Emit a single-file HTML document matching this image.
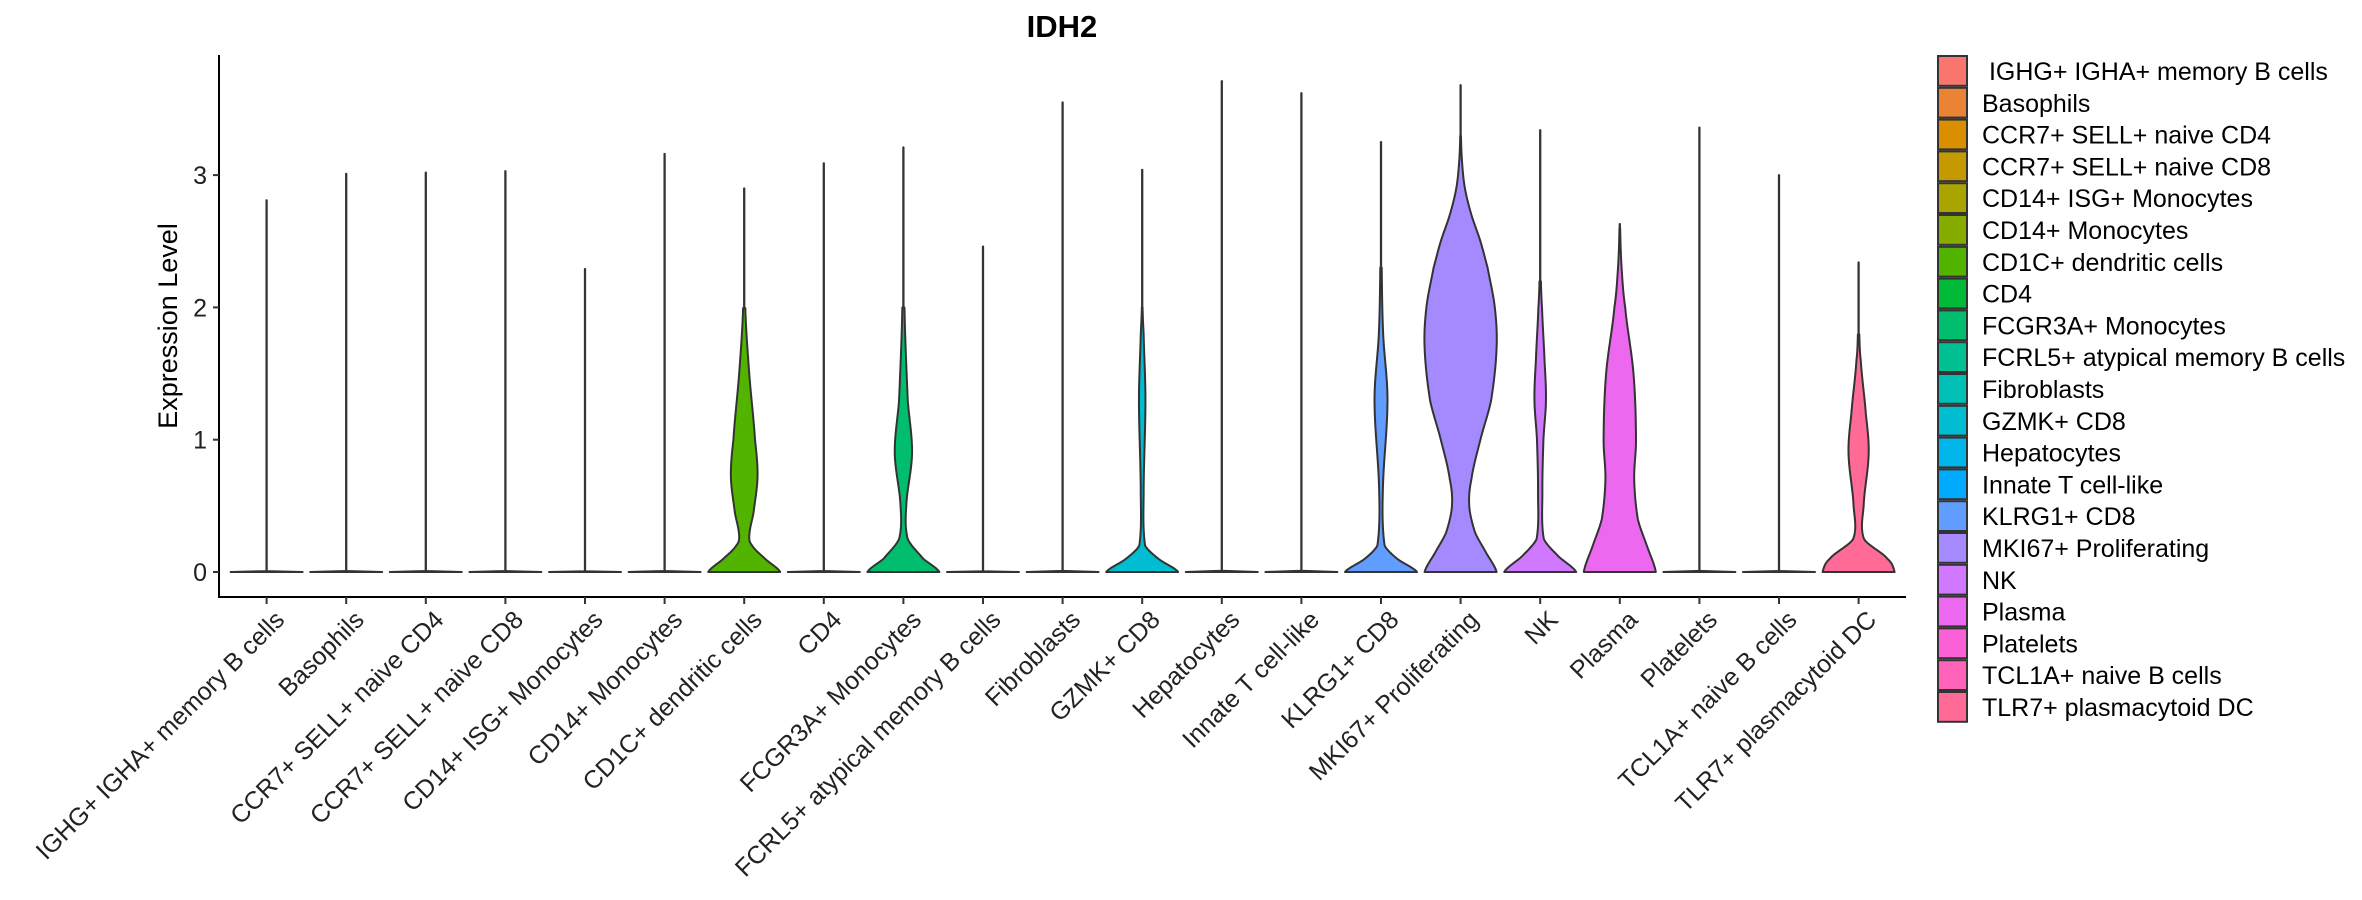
<!DOCTYPE html>
<html><head><meta charset="utf-8"><style>
html,body{margin:0;padding:0;background:#fff;}
svg{display:block;font-family:"Liberation Sans",sans-serif;}
</style></head><body>
<svg id="chart" width="2362" height="900" viewBox="0 0 2362 900" xmlns="http://www.w3.org/2000/svg">
<text x="1062" y="37" text-anchor="middle" font-size="31" font-weight="bold" fill="#000">IDH2</text>
<text transform="translate(177,326) rotate(-90)" text-anchor="middle" font-size="27" fill="#000">Expression Level</text>
<g id="plot"></g>
<g id="legend"></g>
</svg>
<script>
const categories = [" IGHG+ IGHA+ memory B cells","Basophils","CCR7+ SELL+ naive CD4","CCR7+ SELL+ naive CD8","CD14+ ISG+ Monocytes","CD14+ Monocytes","CD1C+ dendritic cells","CD4","FCGR3A+ Monocytes","FCRL5+ atypical memory B cells","Fibroblasts","GZMK+ CD8","Hepatocytes","Innate T cell-like","KLRG1+ CD8","MKI67+ Proliferating","NK","Plasma","Platelets","TCL1A+ naive B cells","TLR7+ plasmacytoid DC"];
const maxValues = [2.81,3.01,3.02,3.03,2.29,3.16,2.9,3.09,3.21,2.46,3.55,3.04,3.71,3.62,3.25,3.68,3.34,2.63,3.36,3.0,2.34];
// density knots: levels (expression) and relative widths; missing = zero-only violin
const densLevels = {
  6:[0,0.1,0.2,0.27,0.45,0.72,1.0,1.5,2.0],
  8:[0,0.1,0.25,0.5,0.9,1.3,2.0],
  11:[0,0.1,0.2,0.6,1.3,1.8,2.0],
  14:[0,0.1,0.2,0.6,1.3,1.8,2.3],
  15:[0,0.15,0.3,0.5,0.7,1.0,1.3,1.7,2.0,2.3,2.5,2.7,2.9,3.1,3.3],
  16:[0,0.12,0.25,0.6,1.0,1.3,1.6,2.0,2.2],
  17:[0,0.2,0.4,0.7,1.0,1.5,2.0,2.3,2.6],
  20:[0,0.1,0.25,0.5,0.9,1.2,1.6,1.8]
};
const densWidths = {
  6:[1,0.58,0.22,0.14,0.26,0.37,0.3,0.14,0.03],
  8:[1,0.55,0.12,0.08,0.24,0.12,0.03],
  11:[1,0.45,0.08,0.04,0.09,0.04,0.01],
  14:[1,0.45,0.1,0.05,0.18,0.06,0.02],
  15:[1,0.7,0.4,0.24,0.3,0.55,0.85,1.0,0.95,0.75,0.55,0.3,0.12,0.04,0.01],
  16:[1,0.5,0.1,0.06,0.09,0.16,0.12,0.05,0.02],
  17:[1,0.75,0.5,0.4,0.45,0.38,0.15,0.05,0.01],
  20:[1,0.8,0.15,0.14,0.28,0.2,0.06,0.02]
};
const yTicks = [0,1,2,3];

const NS="http://www.w3.org/2000/svg";
const X0=266.6, DX=79.6, Y0=572, YU=132.3, HALF=36;
const xPos=i=>X0+DX*i;
const yPos=v=>Y0-v*YU;
function mk(tag,attrs,parent){const e=document.createElementNS(NS,tag);for(const k in attrs)e.setAttribute(k,attrs[k]);parent.appendChild(e);return e;}
function hclHex(h){
  const L=65,C=100,hr=h*Math.PI/180,U=C*Math.cos(hr),V=C*Math.sin(hr);
  const Xn=95.047,Yn=100,Zn=108.883;
  const un=4*Xn/(Xn+15*Yn+3*Zn), vn=9*Yn/(Xn+15*Yn+3*Zn);
  const Y=Yn*Math.pow((L+16)/116,3);
  const u=U/(13*L)+un, v=V/(13*L)+vn;
  const X=9*Y*u/(4*v), Z=-X/3-5*Y+3*Y/v;
  const x=X/100,y=Y/100,z=Z/100;
  let r=3.2406*x-1.5372*y-0.4986*z, g=-0.9689*x+1.8758*y+0.0415*z, b=0.0557*x-0.2040*y+1.0570*z;
  const gam=t=>{t=t<=0.0031308?12.92*t:1.055*Math.pow(t,1/2.4)-0.055;return Math.round(Math.max(0,Math.min(1,t))*255);};
  return "#"+[r,g,b].map(t=>gam(t).toString(16).padStart(2,"0")).join("");
}
(function(){
const plot=document.getElementById('plot');
const legend=document.getElementById('legend');
const n=categories.length;
const colors=categories.map((c,i)=>hclHex(15+360/n*i));
const ya=mk('line',{x1:219,y1:55,x2:219,y2:597,stroke:'#000','stroke-width':2},plot);


const xa=mk('line',{x1:218,y1:597,x2:1906,y2:597,stroke:'#000','stroke-width':2},plot);


yTicks.forEach(t=>{
  const tk=mk('line',{x1:213,y1:yPos(t),x2:219,y2:yPos(t),stroke:'#333','stroke-width':2},plot);
  
  
  const tl=mk('text',{x:207,y:yPos(t)+9,'text-anchor':'end','font-size':25,fill:'#222'},plot);
  tl.textContent=String(t);
  
  
});
function widthAt(lv,ws,v){
  if(v<=lv[0])return ws[0];
  for(let k=0;k<lv.length-1;k++){
    if(v<=lv[k+1]){
      const t=(v-lv[k])/(lv[k+1]-lv[k]);
      const p0=ws[Math.max(0,k-1)],p1=ws[k],p2=ws[k+1],p3=ws[Math.min(ws.length-1,k+2)];
      const w=0.5*((2*p1)+(-p0+p2)*t+(2*p0-5*p1+4*p2-p3)*t*t+(-p0+3*p1-3*p2+p3)*t*t*t);
      return Math.max(0,w);
    }
  }
  return 0;
}
categories.forEach((cat,i)=>{
  const cx=xPos(i), mx=maxValues[i];
  let lv,ws;
  if(densLevels[i]){lv=densLevels[i];ws=densWidths[i];}
  else{lv=[0,0.005];ws=[1,0.01];}
  const N=400, left=[], right=[];
  for(let s=0;s<=N;s++){
    const v=mx*s/N;
    let w=widthAt(lv,ws,v);
    if(v>lv[lv.length-1])w=0.004;
    left.push([cx-w*HALF,yPos(v)]);right.push([cx+w*HALF,yPos(v)]);
  }
  const pts=left.concat(right.reverse());
  const d="M"+pts.map(p=>p[0].toFixed(2)+","+p[1].toFixed(2)).join("L")+"Z";
  const p=mk('path',{d:d,fill:colors[i],stroke:'#333','stroke-width':2,'stroke-linejoin':'round'},plot);
  
  
  const tk=mk('line',{x1:cx,y1:597,x2:cx,y2:604,stroke:'#333','stroke-width':2},plot);
  
  
  const g=mk('g',{transform:'translate('+(cx+6)+',608) rotate(-45)'},plot);
  const tl=mk('text',{x:0,y:0,dy:'0.75em','text-anchor':'end','font-size':25,fill:'#222'},g);
  tl.textContent=cat.trim();
  
  
  const ky=55+i*31.8;
  const r=mk('rect',{x:1938,y:ky+1,width:29,height:29.8,fill:colors[i],stroke:'#333','stroke-width':2},legend);
  
  
  const lt=mk('text',{x:1982,y:ky+25,'font-size':25,fill:'#000',style:'white-space:pre'},legend);
  lt.textContent=cat;
  
  
});
})();
</script>
</body></html>
